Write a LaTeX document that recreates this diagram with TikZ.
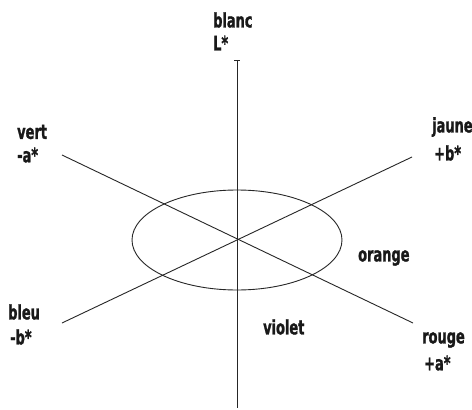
\documentclass[tikz,border=0pt]{standalone}
\usepackage{fontspec}
\setmainfont{DejaVu Sans Condensed}[FakeStretch=0.72,BoldFeatures={FakeBold=1.2}]
\begin{document}
\begin{tikzpicture}[x=1pt,y=-1pt,
  axis/.style={line width=0.9pt,black!85},
  lbl/.style={font=\bfseries\fontsize{20}{22}\selectfont,inner sep=0pt,anchor=west,text=black!90}]
\useasboundingbox[fill=white] (0,0) rectangle (472,410);
\coordinate (c) at (237,240);
\coordinate (top) at (237,60);
\coordinate (bot) at (237,408);
\coordinate (va) at (62,155);
\coordinate (ra) at (413,323);
\coordinate (bb) at (62,323);
\coordinate (jb) at (412,157);
\coordinate (t1) at (234,60);
\coordinate (t2) at (240,60);
\draw[axis] (top) -- (bot);
\draw[axis] (va) -- (ra);
\draw[axis] (bb) -- (jb);
\draw[axis] (t1) -- (t2);
\draw[axis] (c) ellipse [x radius=105, y radius=50];
\node[lbl] (blanc) at (213,20) {blanc};
\node[lbl] (L) at (213,43) {L*};
\node[lbl] (vert) at (17,132) {vert};
\node[lbl] (ma) at (17,155) {-a*};
\node[lbl] (jaune) at (432,127) {jaune};
\node[lbl] (pb) at (434,153) {+b*};
\node[lbl] (bleu) at (8,312) {bleu};
\node[lbl] (mb) at (10,337) {-b*};
\node[lbl] (rouge) at (422,340) {rouge};
\node[lbl] (pa) at (424,363) {+a*};
\node[lbl] (orange) at (358,258) {orange};
\node[lbl] (violet) at (263,327) {violet};
\end{tikzpicture}
\end{document}
